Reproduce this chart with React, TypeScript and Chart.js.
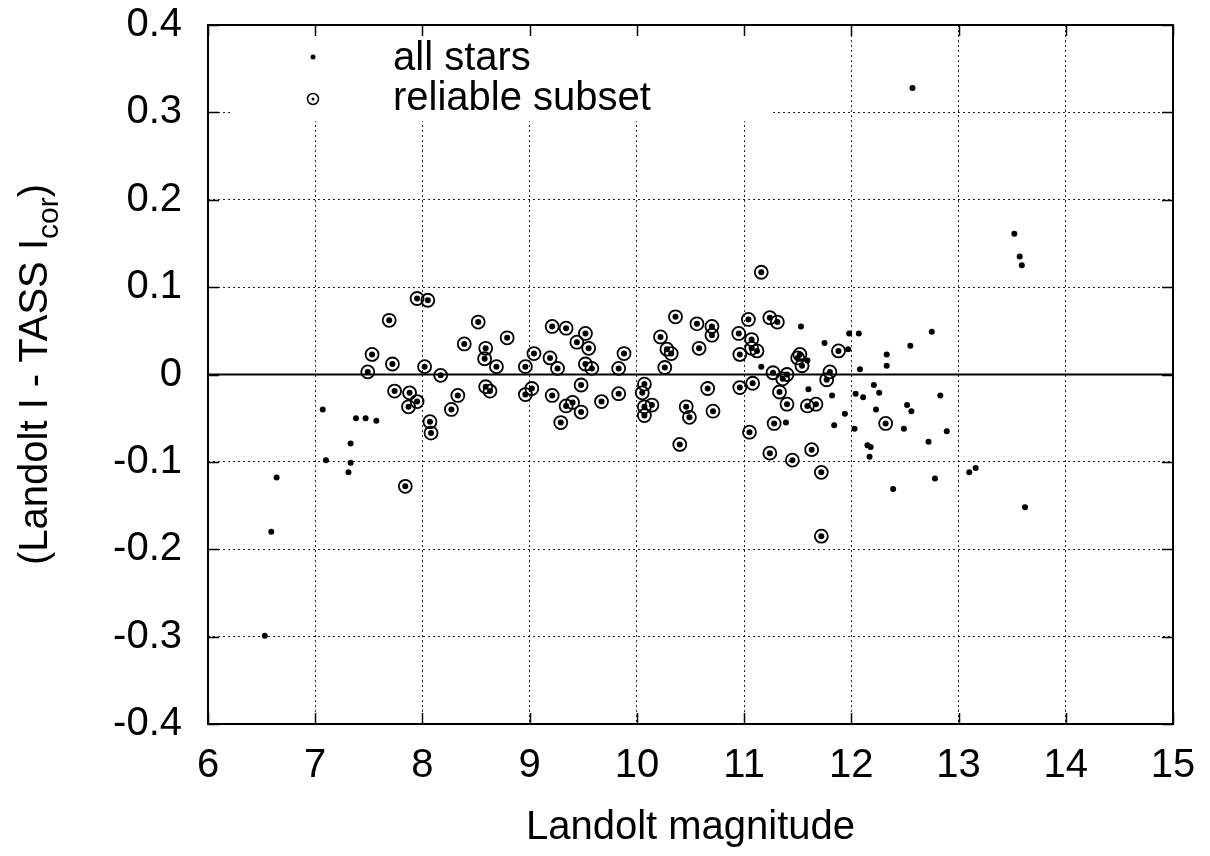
import React, { useEffect, useRef } from "react";
import { Chart, registerables } from "chart.js";

Chart.register(...registerables);

// ---- Data ----
const xTicks = [6, 7, 8, 9, 10, 11, 12, 13, 14, 15];
const yTicks = [-0.4, -0.3, -0.2, -0.1, 0, 0.1, 0.2, 0.3, 0.4];

const xTitle = "Landolt magnitude";
const yTitleMain = "(Landolt I - TASS I";
const yTitleSub = "cor";
const yTitleEnd = ")";
const legendLabels = ["all stars", "reliable subset"];

// reliable subset (circled)
const relMag = [
  7.49, 7.53, 7.69, 7.72, 7.74, 7.88, 7.95, 7.87, 7.95, 8.05,
  8.02, 8.17, 8.07, 8.08, 7.84, 8.27, 8.33, 8.39, 8.52, 8.59,
  8.58, 8.69, 8.59, 8.63, 8.79, 8.96, 9.04, 8.96, 9.02, 9.21,
  9.34, 9.19, 9.26, 9.21, 9.29, 9.34, 9.40, 9.48, 9.48, 9.52,
  9.44, 9.55, 9.52, 9.58, 9.67, 9.83, 9.88, 9.83, 10.07, 10.05,
  10.14, 10.07, 10.07, 10.22, 10.28, 10.32, 10.26, 10.36, 10.40, 10.46,
  10.49, 10.56, 10.58, 10.70, 10.70, 10.66, 10.71, 10.95, 10.96, 10.96,
  11.04, 11.07, 11.07, 11.12, 11.08, 11.05, 11.16, 11.24, 11.31, 11.27,
  11.33, 11.28, 11.24, 11.45, 11.36, 11.40, 11.40, 11.52, 11.50, 11.54,
  11.59, 11.67, 11.63, 11.72, 11.72, 11.88, 11.80, 11.77, 12.32,
];
const relVal = [
  0.003, 0.023, 0.062, 0.012, -0.019, -0.021, -0.031, -0.037, 0.087, 0.085,
  0.009, -0.001, -0.054, -0.067, -0.128, -0.040, -0.024, 0.035, 0.060, 0.030,
  0.018, 0.009, -0.014, -0.019, 0.042, 0.009, 0.024, -0.023, -0.016, 0.055,
  0.053, 0.019, 0.007, -0.024, -0.055, -0.036, -0.032, -0.012, -0.043, 0.047,
  0.037, 0.030, 0.012, 0.007, -0.031, 0.007, 0.024, -0.022, -0.011, -0.021,
  -0.035, -0.037, -0.047, 0.043, 0.029, 0.024, 0.008, 0.066, -0.080, -0.037,
  -0.049, 0.058, 0.030, 0.055, 0.045, -0.016, -0.042, 0.047, 0.023, -0.015,
  0.063, 0.040, 0.030, 0.027, -0.010, -0.066, 0.117, 0.065, 0.060, 0.002,
  -0.020, -0.056, -0.090, -0.098, -0.005, 0.000, -0.034, 0.023, 0.019, 0.010,
  -0.036, -0.034, -0.086, -0.112, -0.185, 0.027, 0.003, -0.006, -0.056,
];

// remaining stars (dot only)
const otherMag = [
  7.07, 7.38, 7.47, 7.57, 7.33, 7.10, 7.33, 7.31, 6.64, 6.59,
  6.53, 11.16, 11.39, 11.53, 11.59, 11.60, 11.75, 11.82, 11.84, 11.94,
  11.97, 11.98, 12.07, 12.08, 12.03, 12.04, 12.11, 12.21, 12.26, 12.23,
  12.15, 12.18, 12.17, 12.33, 12.33, 12.55, 12.75, 12.52, 12.56, 12.49,
  12.83, 12.72, 12.89, 12.39, 12.78, 13.10, 13.16, 13.62, 12.57, 13.52,
  13.57, 13.59,
];
const otherVal = [
  -0.040, -0.050, -0.050, -0.053, -0.079, -0.098, -0.101, -0.112, -0.118, -0.180,
  -0.299, 0.009, -0.055, 0.055, 0.016, -0.017, 0.036, -0.024, -0.058, -0.045,
  0.029, 0.047, 0.047, 0.006, -0.062, -0.022, -0.026, -0.012, -0.021, -0.040,
  -0.081, -0.083, -0.094, 0.023, 0.010, 0.033, 0.049, -0.035, -0.042, -0.062,
  -0.024, -0.077, -0.065, -0.131, -0.119, -0.112, -0.107, -0.152, 0.328, 0.161,
  0.135, 0.125,
];

const FONT = "'Liberation Sans', Arial, Helvetica, sans-serif";

export default function App() {
  const ref = useRef<HTMLCanvasElement>(null);

  useEffect(() => {
    const canvas = ref.current!;
    const allMag = [...relMag, ...otherMag];
    const allVal = [...relVal, ...otherVal];

    const decor = {
      id: "decor",
      beforeDatasetsDraw(chart: any) {
        const { ctx, chartArea: a, scales } = chart;
        const xs = scales.x;
        const ys = scales.y;
        ctx.save();
        // legend background box (hides grid)
        ctx.fillStyle = "#fff";
        ctx.fillRect(a.left + 22, a.top + 1, 540, 95);
        // zero line
        const y0 = ys.getPixelForValue(0);
        ctx.strokeStyle = "#000";
        ctx.lineWidth = 2;
        ctx.beginPath();
        ctx.moveTo(a.left, y0);
        ctx.lineTo(a.right, y0);
        ctx.stroke();
        // inner ticks
        ctx.lineWidth = 1.5;
        ctx.beginPath();
        for (const v of xTicks) {
          const px = Math.round(xs.getPixelForValue(v)) + 0.5;
          ctx.moveTo(px, a.bottom);
          ctx.lineTo(px, a.bottom - 11);
          ctx.moveTo(px, a.top);
          ctx.lineTo(px, a.top + 11);
        }
        for (const v of yTicks) {
          const py = Math.round(ys.getPixelForValue(v)) + 0.5;
          ctx.moveTo(a.left, py);
          ctx.lineTo(a.left + 11, py);
          ctx.moveTo(a.right, py);
          ctx.lineTo(a.right - 11, py);
        }
        ctx.stroke();
        // frame
        ctx.lineWidth = 2;
        ctx.strokeRect(a.left, a.top, a.right - a.left, a.bottom - a.top);
        ctx.restore();
      },
      afterDraw(chart: any) {
        const { ctx, chartArea: a } = chart;
        ctx.save();
        // legend
        const mx = a.left + 105;
        const tx = a.left + 185;
        ctx.fillStyle = "#000";
        ctx.strokeStyle = "#000";
        ctx.beginPath();
        ctx.arc(mx, a.top + 32, 2.5, 0, Math.PI * 2);
        ctx.fill();
        ctx.lineWidth = 1.5;
        ctx.beginPath();
        ctx.arc(mx, a.top + 74, 5.5, 0, Math.PI * 2);
        ctx.stroke();
        ctx.beginPath();
        ctx.arc(mx, a.top + 74, 1.5, 0, Math.PI * 2);
        ctx.fill();
        ctx.font = `40px ${FONT}`;
        ctx.textAlign = "left";
        ctx.textBaseline = "alphabetic";
        ctx.fillText(legendLabels[0], tx, a.top + 45);
        ctx.fillText(legendLabels[1], tx, a.top + 85);

        // y-axis title with subscript
        const cy = (a.top + a.bottom) / 2;
        ctx.translate(47, cy);
        ctx.rotate(-Math.PI / 2);
        ctx.font = `40px ${FONT}`;
        const w1 = ctx.measureText(yTitleMain).width;
        const w3 = ctx.measureText(yTitleEnd).width;
        ctx.font = `30px ${FONT}`;
        const w2 = ctx.measureText(yTitleSub).width;
        const start = -(w1 + w2 + w3) / 2;
        ctx.font = `40px ${FONT}`;
        ctx.fillText(yTitleMain, start, 0);
        ctx.font = `30px ${FONT}`;
        ctx.fillText(yTitleSub, start + w1, 11);
        ctx.font = `40px ${FONT}`;
        ctx.fillText(yTitleEnd, start + w1 + w2, 0);
        ctx.restore();
      },
    };

    const gridOpts = {
      color: "rgba(0,0,0,0.85)",
      lineWidth: 1,
      drawTicks: false,
    };

    const chart = new Chart(canvas, {
      type: "scatter",
      data: {
        datasets: [
          {
            label: legendLabels[1],
            data: relMag.map((x, i) => ({ x, y: relVal[i] })),
            pointRadius: 6.5,
            pointHoverRadius: 6.5,
            pointBackgroundColor: "rgba(0,0,0,0)",
            pointBorderColor: "#000",
            pointBorderWidth: 1.8,
            showLine: false,
          },
          {
            label: legendLabels[0],
            data: allMag.map((x, i) => ({ x, y: allVal[i] })),
            pointRadius: 3,
            pointHoverRadius: 3,
            pointBackgroundColor: "#000",
            pointBorderColor: "#000",
            pointBorderWidth: 0,
            showLine: false,
          },
        ],
      },
      options: {
        animation: false,
        responsive: false,
        events: [],
        layout: { padding: { left: 0, right: 37, top: 25, bottom: 0 } },
        plugins: {
          legend: { display: false },
          tooltip: { enabled: false },
        },
        scales: {
          x: {
            type: "linear",
            min: 6,
            max: 15,
            afterBuildTicks: (s: any) => {
              s.ticks = xTicks.map((v) => ({ value: v }));
            },
            afterFit: (s: any) => {
              s.height = 132;
              s.paddingLeft = 0;
              s.paddingRight = 0;
            },
            ticks: {
              font: { size: 40, family: FONT },
              color: "#000",
              padding: 18,
              maxRotation: 0,
              autoSkip: false,
              callback: (v: any) => String(v),
            },
            grid: gridOpts,
            border: { display: false, dash: [2, 3] },
            title: {
              display: true,
              text: xTitle,
              font: { size: 40, family: FONT },
              color: "#000",
              padding: { top: 0, bottom: 4 },
            },
          },
          y: {
            type: "linear",
            min: -0.4,
            max: 0.4,
            afterBuildTicks: (s: any) => {
              s.ticks = yTicks.map((v) => ({ value: v }));
            },
            afterFit: (s: any) => {
              s.width = 208;
              s.paddingTop = 0;
              s.paddingBottom = 0;
            },
            ticks: {
              font: { size: 40, family: FONT },
              color: "#000",
              padding: 26,
              autoSkip: false,
              callback: (v: any) => String(Math.round(Number(v) * 10) / 10),
            },
            grid: gridOpts,
            border: { display: false, dash: [2, 3] },
          },
        },
      },
      plugins: [decor],
    } as any);

    return () => chart.destroy();
  }, []);

  return (
    <div
      style={{
        position: "absolute",
        left: 0,
        top: 0,
        width: 1210,
        height: 856,
        background: "#fff",
      }}
    >
      <canvas
        ref={ref}
        width={1210}
        height={856}
        style={{ display: "block", width: 1210, height: 856 }}
      />
    </div>
  );
}
